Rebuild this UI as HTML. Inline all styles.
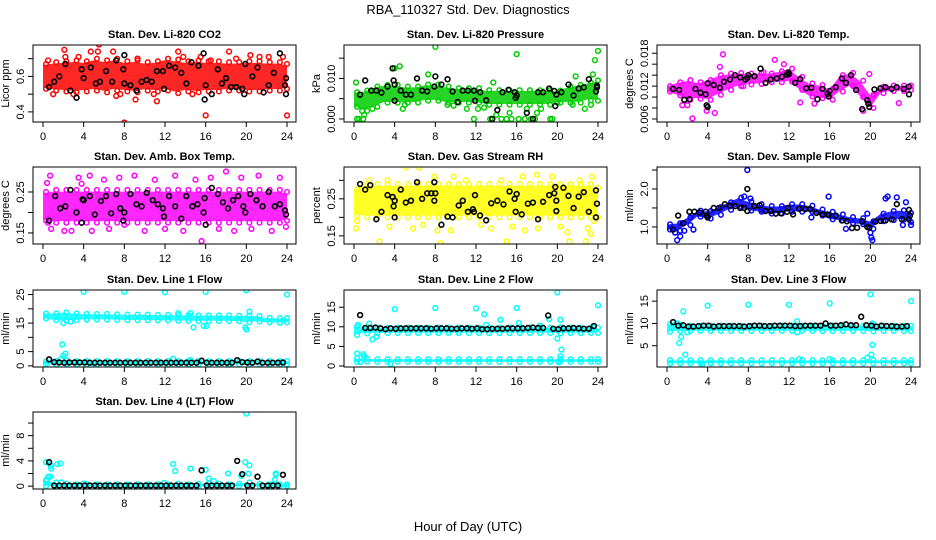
<!DOCTYPE html>
<html><head><meta charset="utf-8"><style>
body{margin:0;background:#fff}
svg{display:block;font-family:"Liberation Sans",Arial,sans-serif}
</style></head><body>
<svg id="chart" width="936" height="540" viewBox="0 0 936 540">
<rect x="0" y="0" width="936" height="540" fill="#fff"/>
<text x="468" y="14" font-size="13" text-anchor="middle">RBA_110327  Std. Dev. Diagnostics</text>
<text x="468" y="531" font-size="13" text-anchor="middle">Hour of Day (UTC)</text>
</svg>
<script>
// ---- shared data ----
const xTicks = [0,4,8,12,16,20,24];
const xTickLabels = ["0","4","8","12","16","20","24"];
const blackHours = [0.6,1.1,1.6,2.1,2.6,3.1,3.6,4.1,4.6,5.1,5.6,6.1,6.6,7.1,7.6,8.1,8.6,9.1,9.6,10.1,10.6,11.1,11.6,12.1,12.6,13.1,13.6,14.1,14.6,15.1,15.6,16.1,16.6,17.1,17.6,18.1,18.6,19.1,19.6,20.1,20.6,21.1,21.6,22.1,22.6,23.1,23.6];

// CO2
const co2Mid = [0.6,0.6,0.6,0.6,0.6,0.61,0.6,0.61,0.6,0.6,0.6,0.6,0.61,0.6,0.6,0.6,0.6,0.6,0.6,0.6,0.6,0.6,0.6,0.6,0.6];
const co2Spread = [0.07,0.08,0.085,0.09,0.085,0.09,0.09,0.09,0.085,0.09,0.08,0.085,0.09,0.095,0.085,0.09,0.085,0.085,0.08,0.08,0.085,0.085,0.08,0.08,0.07];
const co2ExtraX = [0.5,1,2.1,2.2,3.5,4.7,5.5,5.4,6.9,7.2,8,9.1,9.3,11.2,13.3,13.8,15.5,16,16.5,18.3,19,20.4,21.3,22.2,23.6,24,10.9,14.7,7.6,3];
const co2ExtraY = [0.69,0.5,0.75,0.71,0.71,0.74,0.78,0.74,0.74,0.49,0.34,0.47,0.7,0.46,0.74,0.71,0.71,0.38,0.69,0.74,0.7,0.72,0.71,0.71,0.71,0.38,0.5,0.5,0.5,0.5];
const co2BlackX = [0.6,1.1,1.6,2.2,2.7,3.3,3.8,4.0,4.7,5.2,5.6,6.2,6.8,7.2,7.9,8.0,8.0,8.6,9.2,9.7,10.2,10.7,11.2,11.8,11.9,12.4,13.0,13.6,14.1,14.6,15.3,15.8,15.9,16.0,16.6,17.2,17.6,18.0,18.5,19.0,19.6,19.8,19.9,20.6,21.1,21.7,22.2,22.7,23.3,23.8,23.9,23.9];
const co2BlackY = [0.54,0.57,0.6,0.67,0.52,0.48,0.64,0.59,0.65,0.56,0.57,0.63,0.57,0.69,0.64,0.72,0.56,0.55,0.52,0.57,0.58,0.57,0.63,0.63,0.53,0.66,0.65,0.62,0.56,0.68,0.66,0.73,0.47,0.55,0.5,0.64,0.56,0.59,0.54,0.54,0.53,0.5,0.67,0.6,0.65,0.51,0.55,0.62,0.73,0.55,0.5,0.59];
const co2Ticks = [0.4,0.5,0.6,0.7];
const co2TickLabels = ["0.4","","0.6",""];

// Pressure
const presMid = [0.0048,0.0045,0.0055,0.0062,0.0062,0.006,0.006,0.0065,0.0065,0.006,0.0058,0.0058,0.0058,0.0053,0.0053,0.0053,0.0053,0.0053,0.0053,0.0053,0.0055,0.006,0.0062,0.0068,0.007];
const presSpread = [0.0018,0.0025,0.0025,0.0022,0.0022,0.002,0.002,0.002,0.002,0.002,0.0018,0.0018,0.0018,0.0018,0.0018,0.0018,0.0018,0.0018,0.0018,0.0018,0.0015,0.002,0.0022,0.0022,0.0025];
const presExtraX = [0.2,0.3,0.5,0.9,1,0.8,1.8,4,4.5,4.8,5,7.3,8,9.2,9.8,11.1,11.8,12.2,13.4,13.7,14.5,15,15.3,15.5,16,16.2,16.8,17,17.4,17.8,18.4,19.3,19.5,20,21.5,21.8,22.7,23.5,23.7,24,23.3,12.8,14,18];
const presExtraY = [0.009,0,0,0,0.001,0.002,0.0025,0.0125,0.013,0.0025,0.0035,0.011,0.0178,0.0035,0.0033,0.0025,0,0.0025,0,0.009,0,0,0.0015,0,0.016,0,0,0.0025,0,0,0.0025,0,0,0.004,0.0035,0.0105,0.0025,0.011,0.0145,0.0168,0.0035,0.0028,0.001,0.0015];
const presBlackX = [0.6,1.1,1.7,2.2,2.7,3.3,3.8,3.9,4.0,4.0,4.6,5.1,5.6,6.2,6.7,7.2,7.9,8.0,8.6,9.2,9.7,10.2,10.7,11.2,11.8,11.9,12.4,13.0,13.6,14.1,14.6,15.2,15.8,15.9,16.0,17.0,17.6,18.1,18.6,19.2,19.7,19.8,19.9,20.4,21.1,21.6,22.1,22.6,23.1,23.8,23.9,23.9];
const presBlackY = [0.006,0.0095,0.007,0.007,0.0065,0.008,0.0125,0.0095,0.0085,0.0045,0.007,0.006,0.006,0.01,0.007,0.0068,0.008,0.0105,0.0085,0.0098,0.0068,0.0042,0.007,0.007,0.007,0.0045,0.0066,0.0046,0,0.0022,0.0066,0.0072,0.0066,0.0052,0.0058,0.0015,0,0.0066,0.0066,0.0075,0.0069,0.0032,0.006,0.0066,0.0085,0.0058,0.0075,0.0078,0.0098,0.0068,0.0082,0.0078];
const presTicks = [0,0.005,0.01,0.015];
const presTickLabels = ["0.000","","0.010",""];

// Li-820 Temp
const tempMid = [0.0115,0.0115,0.0113,0.0112,0.0113,0.0122,0.0128,0.0132,0.0133,0.0134,0.0135,0.0137,0.014,0.0125,0.0113,0.011,0.0105,0.0125,0.0132,0.0115,0.0092,0.0113,0.0116,0.0116,0.0117];
const tempSpread = [0.0005,0.0012,0.0018,0.0015,0.0018,0.0018,0.0015,0.0012,0.001,0.001,0.0008,0.001,0.0012,0.0012,0.0012,0.0012,0.001,0.0015,0.0012,0.0015,0.0012,0.0006,0.0005,0.0005,0.0004];
const tempExtraX = [2.5,4.7,5.5,5.2,10.6,11.5,3.9,2,1.5,13.1,14.5,19.9,22.8,19.3,7.5,9.5];
const tempExtraY = [0.0061,0.0071,0.0178,0.0155,0.0168,0.016,0.0075,0.0085,0.0085,0.009,0.0088,0.0142,0.0089,0.0075,0.012,0.0145];
const tempBlackX = [0.6,1.2,1.7,2.2,2.8,3.3,3.8,3.9,4.0,4.0,4.6,5.2,5.6,6.2,6.7,7.2,7.7,7.9,8.0,8.6,9.2,9.7,10.2,10.8,11.3,11.8,11.9,12.0,12.6,13.1,13.7,14.2,14.8,15.3,15.8,15.9,16.0,16.6,17.2,17.6,18.1,18.6,19.2,19.7,19.8,19.9,20.4,21.0,21.5,22.1,22.6,23.3,23.8,23.8];
const tempBlackY = [0.0115,0.0113,0.0095,0.0096,0.0115,0.0108,0.0105,0.0085,0.0082,0.0125,0.0122,0.0117,0.0128,0.0132,0.014,0.0136,0.0132,0.0135,0.014,0.0138,0.0152,0.0126,0.0132,0.0134,0.0137,0.0141,0.0145,0.0142,0.0126,0.0133,0.0116,0.0117,0.0096,0.0115,0.0106,0.0101,0.0111,0.0118,0.0134,0.0126,0.014,0.0113,0.0078,0.0094,0.0088,0.0082,0.0114,0.0116,0.0118,0.0115,0.0118,0.0115,0.0119,0.0105];
const tempTicks = [0.006,0.008,0.01,0.012,0.014,0.016,0.018];
const tempTickLabels = ["0.006","","","0.012","","","0.018"];

// Amb box temp
const ambMid = [0.215,0.215,0.215,0.215,0.215,0.215,0.215,0.215,0.215,0.215,0.215,0.215,0.215,0.215,0.215,0.215,0.215,0.215,0.215,0.215,0.215,0.215,0.215,0.215,0.215];
const ambSpread = [0.035,0.04,0.04,0.04,0.04,0.04,0.04,0.04,0.04,0.04,0.04,0.04,0.04,0.04,0.04,0.04,0.04,0.04,0.04,0.04,0.04,0.04,0.04,0.04,0.035];
const ambExtraX = [0.5,0.4,0.7,0.8,2.1,2.8,3.5,3.8,4.6,4.8,6,6.5,7.5,8,9,10,11,12,13,13.8,15,15.6,16.5,17.3,18,18.8,19.5,20.5,21.2,22.5,23.3,23.9];
const ambExtraY = [0.175,0.272,0.29,0.16,0.155,0.155,0.285,0.27,0.29,0.155,0.28,0.16,0.285,0.17,0.29,0.155,0.28,0.16,0.29,0.155,0.28,0.13,0.285,0.16,0.3,0.155,0.285,0.16,0.29,0.155,0.285,0.165];
const ambBlackX = [0.6,1.2,1.7,2.2,2.7,3.3,3.8,3.9,4,4.6,5.1,5.7,6.2,6.7,7.2,7.6,7.9,8,8.6,9.2,9.7,10.2,10.8,11.3,11.8,11.9,12.4,13,13.6,14.1,14.7,15.2,15.8,15.9,16,16.6,17.2,17.7,18.2,18.7,19.2,19.7,19.9,20.4,21,21.6,22.2,22.8,23.3,23.8,23.9];
const ambBlackY = [0.18,0.24,0.21,0.215,0.255,0.2,0.175,0.232,0.23,0.24,0.195,0.228,0.24,0.198,0.245,0.21,0.18,0.2,0.245,0.22,0.215,0.248,0.23,0.22,0.21,0.19,0.24,0.215,0.185,0.24,0.215,0.22,0.2,0.235,0.17,0.26,0.245,0.225,0.21,0.23,0.24,0.215,0.2,0.245,0.23,0.215,0.25,0.215,0.22,0.205,0.195];
const ambTicks = [0.15,0.2,0.25];
const ambTickLabels = ["0.15","","0.25"];

// RH
const rhMid = [0.24,0.245,0.245,0.245,0.245,0.245,0.245,0.245,0.245,0.245,0.245,0.245,0.245,0.245,0.245,0.245,0.245,0.245,0.245,0.245,0.245,0.245,0.245,0.245,0.24];
const rhSpread = [0.035,0.045,0.045,0.045,0.045,0.045,0.045,0.045,0.045,0.045,0.045,0.045,0.045,0.045,0.045,0.045,0.045,0.045,0.045,0.045,0.045,0.045,0.045,0.045,0.04];
const rhExtraX = [0.2,0.3,1.5,2.5,3.3,3.5,5.1,5.8,6.4,6.8,7.9,8.2,8.5,9.8,9.5,11,12.5,13.5,14.5,15,15.6,16.6,16.8,18,18.1,19.5,20.3,21,21.2,22.2,22.8,23,23.3,23.4,23.6];
const rhExtraY = [0.17,0.19,0.3,0.135,0.3,0.175,0.335,0.17,0.335,0.18,0.31,0.165,0.13,0.31,0.165,0.3,0.18,0.17,0.3,0.135,0.175,0.31,0.165,0.315,0.17,0.31,0.175,0.16,0.135,0.3,0.135,0.17,0.155,0.31,0.19];
const rhBlackX = [0.6,1.1,1.6,2.2,2.7,3.3,3.8,3.9,4,4,4.6,5.1,5.6,6.2,6.7,7.2,7.6,7.9,7.9,8,8.6,9.2,9.7,10.3,10.7,11.2,11.7,11.8,11.9,12.4,13,13.5,14.1,14.7,15.3,15.8,15.9,16,16.5,17.1,17.6,18.1,18.6,19.2,19.7,19.8,19.9,19.9,20.6,21.1,21.6,22.1,22.6,23.1,23.8,23.8,23.9];
const rhBlackY = [0.29,0.275,0.287,0.195,0.215,0.26,0.255,0.23,0.2,0.245,0.275,0.24,0.245,0.295,0.25,0.265,0.265,0.245,0.295,0.265,0.18,0.202,0.2,0.232,0.245,0.215,0.222,0.215,0.26,0.205,0.192,0.238,0.245,0.235,0.27,0.25,0.215,0.263,0.208,0.237,0.24,0.195,0.242,0.26,0.265,0.282,0.245,0.217,0.28,0.258,0.225,0.256,0.268,0.215,0.273,0.2,0.237];
const rhTicks = [0.15,0.2,0.25,0.3];
const rhTickLabels = ["0.15","","0.25",""];

// Sample flow
const sfMid = [1.0,1.0,1.15,1.35,1.32,1.42,1.55,1.65,1.55,1.5,1.45,1.45,1.5,1.5,1.48,1.38,1.3,1.25,1.18,1.15,1.05,1.25,1.3,1.32,1.25];
const sfSpread = [0.07,0.1,0.1,0.08,0.1,0.1,0.1,0.12,0.12,0.1,0.1,0.1,0.1,0.1,0.08,0.08,0.1,0.08,0.08,0.08,0.1,0.1,0.12,0.12,0.12];
const sfExtraX = [0.8,1,1.3,1.7,2.6,7.9,7.6,8.2,9.3,15.9,14.2,17.6,20,20.1,20.2,21.5,21.7,22.6,23.5,24,23.2,19.7];
const sfExtraY = [0.85,0.65,0.75,0.9,0.93,2.5,1.8,1.75,1.45,1.8,1.25,0.95,0.85,0.72,0.65,1.75,1.8,1.78,1.65,1.05,1.05,1.35];
const sfBlackX = [0.6,1.1,1.6,2.2,2.7,3.2,3.8,3.9,4,4.6,5.1,5.7,6.2,6.7,7.2,7.6,7.9,7.9,8.6,9.1,9.7,10.2,10.7,11.2,11.8,11.9,12.4,13,13.6,14.1,14.7,15.3,15.8,15.9,16.6,17.2,17.7,18.2,18.7,19.2,19.7,19.9,20.5,21,21.5,22.1,22.6,23.1,23.8,23.8,23.9];
const sfBlackY = [0.93,1.3,1.1,1.4,1.4,1.38,1.4,1.3,1.25,1.5,1.5,1.6,1.55,1.55,1.5,1.5,1.42,2.0,1.55,1.57,1.42,1.42,1.35,1.36,1.4,1.5,1.33,1.48,1.47,1.47,1.37,1.33,1.33,1.32,1.3,1.17,1.15,0.97,0.98,1.15,1.0,0.98,1.14,1.16,1.17,1.2,1.6,1.2,1.2,1.45,1.3];
const sfTicks = [1.0,1.5,2.0,2.5];
const sfTickLabels = ["1.0","","2.0",""];

// Line 1 flow
const l1Mid = [17.5,17.2,17.3,17.2,17.2,17.2,17.2,17.1,17,17,17,16.9,16.9,16.8,16.8,16.7,16.7,16.7,16.7,16.6,16.5,16.5,16.0,15.9,16.0];
const l1Spread = [0.9,1.2,1.5,1.2,1,1,1,1,1,1,1,1,1,1,1,1,1,1,1,1,1.2,1,0.8,0.8,0.8];
const l1LowMid = [1.1,1.1,1.2,1.1,1.1,1.1,1.1,1.1,1.1,1.1,1.1,1.1,1.1,1.1,1.1,1.1,1.1,1.1,1.1,1.1,1.1,1.1,1.1,1.1,1.1];
const l1LowSpread = [0.5,0.6,0.7,0.6,0.6,0.6,0.6,0.6,0.6,0.6,0.6,0.6,0.6,0.6,0.6,0.6,0.6,0.6,0.6,0.6,0.6,0.6,0.6,0.6,0.6];
const l1ExtraX = [4,8,12,16,20,24,1.9,2.2,1.8,2,2.3,2.7,2,14.8,15.8,16.1,19.9,20,20.3,13.3,14.5,12.8,14.5,4.7,18.3,0.3];
const l1ExtraY = [26,26,25.8,26,26.5,25,7.5,4.3,2.5,3.5,16,15.5,15,13.5,14,14,13.5,12.8,19,18.5,18.5,2.5,2,-0.2,-0.2,0.8];
const l1Black = [2.3,1.3,1.2,1.1,1.2,1.2,1.2,1.2,1.1,1.1,1.1,1.1,1.1,1.1,1.1,1.1,1.1,1.1,1.1,1.1,1.1,1.1,1.1,1.1,1.1,1.1,1.1,1.1,1.1,1.1,1.8,1.1,1.1,1.1,1.1,1.1,1.1,2.0,1.3,1.2,1.1,1.5,1.1,1.1,1.1,1.1,1.2];
const l1Ticks = [0,5,10,15,20,25];
const l1TickLabels = ["0","5","","15","","25"];

// Line 2 flow
const l2Mid = [9.0,9.1,9.1,9.1,9.1,9.1,9.1,9.1,9.1,9.1,9.1,9.1,9.1,9.1,9.1,9.1,9.1,9.1,9.1,9.1,9.1,9.1,9.1,9.1,9.1];
const l2Spread = [1.1,0.8,0.7,0.7,0.7,0.7,0.7,0.7,0.7,0.7,0.7,0.7,0.7,0.7,0.7,0.7,0.7,0.7,0.7,0.7,0.8,0.7,0.7,0.7,0.7];
const l2LowMid = [1.5,1.5,1.4,1.4,1.4,1.4,1.4,1.4,1.4,1.4,1.4,1.4,1.4,1.4,1.4,1.4,1.4,1.4,1.4,1.4,1.4,1.4,1.4,1.4,1.4];
const l2LowSpread = [0.5,0.4,0.35,0.35,0.35,0.35,0.35,0.35,0.35,0.35,0.35,0.35,0.35,0.35,0.35,0.35,0.35,0.35,0.35,0.35,0.35,0.35,0.35,0.35,0.35];
const l2ExtraX = [0.3,0.6,0.9,1,0.4,1.5,1.8,2.2,4,8,12,12.8,13,14.4,16,16.2,18.3,19.2,20,20,20.1,20.4,20.3,20.3,24,3.6,23.5];
const l2ExtraY = [3.2,1,3.0,2.5,10.5,10.8,6.8,7.5,14.5,14.8,14.7,13.2,10.5,11.8,14.8,11,10.3,12,18.8,7,1.0,4.2,11.8,2.5,15.5,0.5,10];
const l2Black = [13,9.7,9.7,9.8,9.6,9.4,9.6,9.5,9.6,9.6,9.6,9.6,9.6,9.6,9.5,9.6,9.6,9.6,9.5,9.5,9.6,9.6,9.5,9.6,9.4,9.4,9.5,9.5,9.5,9.6,9.6,9.6,9.6,9.7,9.8,9.7,9.7,12.9,9.5,9.4,9.6,9.6,9.7,9.6,9.5,9.5,10.2];
const l2Ticks = [0,5,10,15];
const l2TickLabels = ["0","5","10","15"];

// Line 3 flow
const l3Mid = [9.0,9.0,8.9,8.9,8.9,8.9,8.9,8.9,8.9,8.9,8.9,8.9,8.9,8.9,8.9,8.9,8.9,8.9,8.9,8.9,8.9,8.9,8.9,8.9,8.9];
const l3Spread = [0.9,0.7,0.6,0.6,0.6,0.6,0.6,0.6,0.6,0.6,0.6,0.6,0.6,0.6,0.6,0.6,0.6,0.6,0.6,0.6,0.7,0.6,0.6,0.6,0.6];
const l3LowMid = [1.4,1.4,1.4,1.4,1.4,1.4,1.4,1.4,1.4,1.4,1.4,1.4,1.4,1.4,1.4,1.4,1.4,1.4,1.4,1.4,1.4,1.4,1.4,1.4,1.4];
const l3LowSpread = [0.4,0.35,0.35,0.35,0.35,0.35,0.35,0.35,0.35,0.35,0.35,0.35,0.35,0.35,0.35,0.35,0.35,0.35,0.35,0.35,0.35,0.35,0.35,0.35,0.35];
const l3ExtraX = [1,1.2,1.4,1.6,1.8,4,8,12,12.8,12.8,13,16,16,19.7,20,20.1,20.2,20.2,24,3.5,2];
const l3ExtraY = [10,5.6,7,12.7,3,14,14.2,14.2,10.5,8,2,14.5,2,2.3,16.5,3,5.2,10,15,0.8,8];
const l3Black = [10.3,9.5,9.6,9.3,9.3,9.4,9.5,9.5,9.3,9.4,9.4,9.4,9.4,9.4,9.3,9.4,9.5,9.5,9.4,9.4,9.5,9.5,9.5,9.5,9.4,9.4,9.5,9.5,9.5,9.5,10,9.5,9.5,9.6,9.8,9.6,9.6,11.5,9.6,9.5,9.3,9.5,9.4,9.4,9.3,9.3,9.4];
const l3Ticks = [5,10,15];
const l3TickLabels = ["5","10","15"];

// Line 4 flow
const l4Mid = [0.5,0.3,0.2,0.15,0.15,0.15,0.15,0.15,0.15,0.15,0.15,0.15,0.15,0.2,0.15,0.2,0.2,0.2,0.15,0.2,0.3,0.2,0.15,0.15,0.15];
const l4Spread = [0.5,0.3,0.2,0.15,0.15,0.15,0.15,0.15,0.15,0.15,0.15,0.15,0.15,0.2,0.15,0.2,0.2,0.2,0.15,0.2,0.3,0.2,0.15,0.15,0.15];
const l4ExtraX = [0.3,0.4,0.5,0.7,0.8,0.8,1.4,1.7,1.8,4,12.8,13,14.5,16,16.3,16.8,18.2,19.5,20,19.9,20.3,20.2,22.8,22.9,22.9,11.9];
const l4ExtraY = [3.8,1.0,1.5,1.5,2.8,3.2,3.5,3.6,0.6,0.4,3.5,2.4,2.8,2.6,1.2,0.8,2.0,1.6,11.5,3.8,3.3,2.0,1.0,2.0,1.8,0.5];
const l4Black = [3.8,0.1,0.1,0.1,0.1,0.1,0.1,0.1,0.1,0.1,0.1,0.1,0.1,0.1,0.1,0.1,0.1,0.1,0.1,0.1,0.1,0.1,0.1,0.1,0.1,0.1,0.1,0.1,0.1,0.1,2.5,0.1,0.1,0.1,0.1,0.1,0.1,4.0,1.9,0.1,0.1,1.5,0.1,0.1,0.1,0.1,1.8];
const l4Ticks = [0,2,4,6,8,10];
const l4TickLabels = ["0","","4","","8",""];

// ---- rendering ----
const NS = "http://www.w3.org/2000/svg";
const svg = document.getElementById("chart");
const W = 263, H = 77;
const colLeft = [33, 344, 657];
const rowTop = [45, 167, 290, 412];

function mk(tag, attrs, parent) {
  const e = document.createElementNS(NS, tag);
  for (const k in attrs) e.setAttribute(k, attrs[k]);
  (parent || svg).appendChild(e);
  return e;
}

const panels = [
  {key:"co2", title:"Stan. Dev. Li-820 CO2", ylab:"Licor ppm", col:0,row:0, ylim:[0.343,0.777], color:"#ff0000", mid:co2Mid, spread:co2Spread, ex:co2ExtraX, ey:co2ExtraY, bx:co2BlackX, by:co2BlackY, ticks:co2Ticks, labels:co2TickLabels},
  {key:"pressure", title:"Stan. Dev. Li-820 Pressure", ylab:"kPa", col:1,row:0, ylim:[-0.00075,0.01825], color:"#00cd00", mid:presMid, spread:presSpread, ex:presExtraX, ey:presExtraY, bx:presBlackX, by:presBlackY, ticks:presTicks, labels:presTickLabels},
  {key:"temp", title:"Stan. Dev. Li-820 Temp.", ylab:"degrees C", col:2,row:0, ylim:[0.00545,0.0195], color:"#ff00ff", mid:tempMid, spread:tempSpread, ex:tempExtraX, ey:tempExtraY, bx:tempBlackX, by:tempBlackY, ticks:tempTicks, labels:tempTickLabels},
  {key:"amb", title:"Stan. Dev. Amb. Box Temp.", ylab:"degrees C", col:0,row:1, ylim:[0.123,0.311], color:"#ff00ff", mid:ambMid, spread:ambSpread, ex:ambExtraX, ey:ambExtraY, bx:ambBlackX, by:ambBlackY, ticks:ambTicks, labels:ambTickLabels},
  {key:"rh", title:"Stan. Dev. Gas Stream RH", ylab:"percent", col:1,row:1, ylim:[0.128,0.336], color:"#ffff00", mid:rhMid, spread:rhSpread, ex:rhExtraX, ey:rhExtraY, bx:rhBlackX, by:rhBlackY, ticks:rhTicks, labels:rhTickLabels},
  {key:"sample", title:"Stan. Dev. Sample Flow", ylab:"ml/min", col:2,row:1, ylim:[0.55,2.58], color:"#0000ff", mid:sfMid, spread:sfSpread, ex:sfExtraX, ey:sfExtraY, bx:sfBlackX, by:sfBlackY, ticks:sfTicks, labels:sfTickLabels},
  {key:"line1", title:"Stan. Dev. Line 1 Flow", ylab:"ml/min", col:0,row:2, ylim:[-0.4,26.6], color:"#00ffff", mid:l1Mid, spread:l1Spread, mid2:l1LowMid, spread2:l1LowSpread, ex:l1ExtraX, ey:l1ExtraY, bx:blackHours, by:l1Black, ticks:l1Ticks, labels:l1TickLabels},
  {key:"line2", title:"Stan. Dev. Line 2 Flow", ylab:"ml/min", col:1,row:2, ylim:[-0.26,19.4], color:"#00ffff", mid:l2Mid, spread:l2Spread, mid2:l2LowMid, spread2:l2LowSpread, ex:l2ExtraX, ey:l2ExtraY, bx:blackHours, by:l2Black, ticks:l2Ticks, labels:l2TickLabels},
  {key:"line3", title:"Stan. Dev. Line 3 Flow", ylab:"ml/min", col:2,row:2, ylim:[0.23,17.5], color:"#00ffff", mid:l3Mid, spread:l3Spread, mid2:l3LowMid, spread2:l3LowSpread, ex:l3ExtraX, ey:l3ExtraY, bx:blackHours, by:l3Black, ticks:l3Ticks, labels:l3TickLabels},
  {key:"line4", title:"Stan. Dev. Line 4 (LT) Flow", ylab:"ml/min", col:0,row:3, ylim:[-0.45,11.75], color:"#00ffff", mid:l4Mid, spread:l4Spread, ex:l4ExtraX, ey:l4ExtraY, bx:blackHours, by:l4Black, ticks:l4Ticks, labels:l4TickLabels}
];

panels.forEach(p => {
  const L = colLeft[p.col], T = rowTop[p.row];
  const xs = h => L + 10 + h * (W - 19) / 24;
  const ys = v => T + H - (v - p.ylim[0]) / (p.ylim[1] - p.ylim[0]) * H;
  const g = mk("g", {});
  
  
  const clipId = "clip-" + p.key;
  const cp = mk("clipPath", {id: clipId}, g);
  mk("rect", {x:L, y:T, width:W, height:H}, cp);
  const plot = mk("g", {"clip-path": "url(#" + clipId + ")"}, g);

  function band(mid, spread, nm) {
    let pts = [];
    for (let i = 0; i < mid.length; i++) pts.push(xs(i) + "," + ys(mid[i] + spread[i] * 0.9));
    for (let i = mid.length - 1; i >= 0; i--) pts.push(xs(i) + "," + ys(mid[i] - spread[i] * 0.9));
    const poly = mk("polygon", {points: pts.join(" "), fill: p.color, "fill-opacity": 0.85, stroke: "none"}, plot);
    
    
    for (let i = 0; i < mid.length; i++) {
      [mid[i] + spread[i], mid[i] - spread[i]].forEach(v => {
        const c = mk("circle", {cx: xs(i + 0.5 > 24 ? i : i + 0.3), cy: ys(v), r: 2.3, fill: "none", stroke: p.color, "stroke-width": 1.5}, plot);
        
        
      });
    }
  }
  band(p.mid, p.spread, "point-cloud");
  if (p.mid2) band(p.mid2, p.spread2, "point-cloud-low");

  for (let i = 0; i < p.ex.length; i++) {
    const c = mk("circle", {cx: xs(p.ex[i]), cy: ys(p.ey[i]), r: 2.4, fill: "none", stroke: p.color, "stroke-width": 1.5}, plot);
    
    
  }
  for (let i = 0; i < p.bx.length && i < p.by.length; i++) {
    const c = mk("circle", {cx: xs(p.bx[i]), cy: ys(p.by[i]), r: 2.4, fill: "none", stroke: "#000", "stroke-width": 1.6}, plot);
    
    
  }

  const box = mk("rect", {x: L, y: T, width: W, height: H, fill: "none", stroke: "#000", "stroke-width": 1}, g);
  
  

  const t = mk("text", {x: L + W / 2, y: T - 7, "font-size": 11, "font-weight": "bold", "text-anchor": "middle"}, g);
  t.textContent = p.title;
  
  

  const xa = mk("g", {}, g);
  
  
  mk("line", {x1: xs(xTicks[0]), x2: xs(xTicks[xTicks.length - 1]), y1: T + H, y2: T + H, stroke: "#000"}, xa);
  xTicks.forEach((v, i) => {
    mk("line", {x1: xs(v), x2: xs(v), y1: T + H, y2: T + H + 5, stroke: "#000"}, xa);
    const tl = mk("text", {x: xs(v), y: T + H + 18, "font-size": 11, "text-anchor": "middle"}, xa);
    tl.textContent = xTickLabels[i];
    
    
  });

  const ya = mk("g", {}, g);
  
  
  const vis = p.ticks.filter(v => v >= p.ylim[0] && v <= p.ylim[1]);
  mk("line", {x1: L, x2: L, y1: ys(vis[0]), y2: ys(vis[vis.length - 1]), stroke: "#000"}, ya);
  p.ticks.forEach((v, i) => {
    if (v < p.ylim[0] || v > p.ylim[1]) return;
    mk("line", {x1: L - 5, x2: L, y1: ys(v), y2: ys(v), stroke: "#000"}, ya);
    if (p.labels[i]) {
      const tx = L - 9, ty = ys(v);
      const tl = mk("text", {x: tx, y: ty, "font-size": 11, "text-anchor": "middle", transform: "rotate(-90 " + tx + " " + ty + ")"}, ya);
      tl.textContent = p.labels[i];
      
      
    }
  });
  const lx = L - 24, ly = T + H / 2;
  const yl = mk("text", {x: lx, y: ly, "font-size": 11, "text-anchor": "middle", transform: "rotate(-90 " + lx + " " + ly + ")"}, g);
  yl.textContent = p.ylab;
  
  
});
</script>
</body></html>
